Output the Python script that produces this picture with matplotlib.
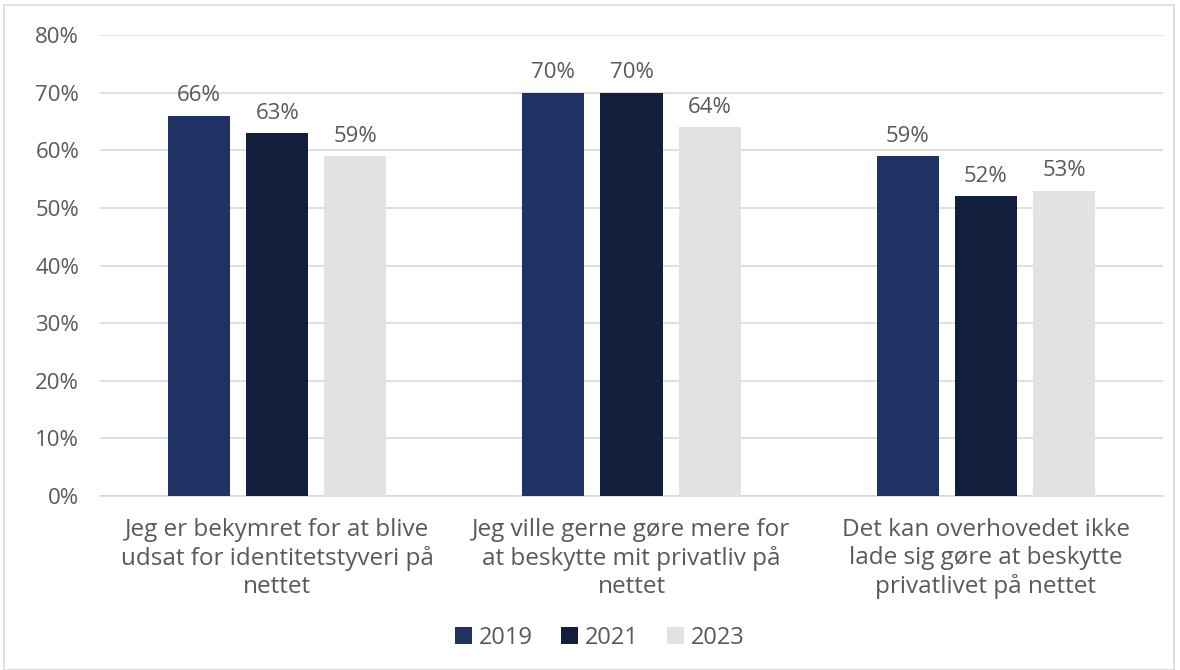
import matplotlib
matplotlib.use("Agg")
import matplotlib.pyplot as plt
import numpy as np
from matplotlib.patches import Rectangle

categories = [
    "Jeg er bekymret for at blive\nudsat for identitetstyveri på\nnettet",
    "Jeg ville gerne gøre mere for\nat beskytte mit privatliv på\nnettet",
    "Det kan overhovedet ikke\nlade sig gøre at beskytte\nprivatlivet på nettet",
]
years = ["2019", "2021", "2023"]
values = {
    "2019": [66, 70, 59],
    "2021": [63, 70, 52],
    "2023": [59, 64, 53],
}
colors = ["#203263", "#111f3d", "#e2e2e2"]

plt.rcParams['font.family'] = ['Open Sans', 'DejaVu Sans']
text_color = "#595959"

fig = plt.figure(figsize=(11.8, 6.7), dpi=100)
ax = fig.add_axes([100/1180, 174/670, 1063/1180, 461/670])

fig.patches.append(Rectangle((4/1180, 0), 1170/1180, 665/670, transform=fig.transFigure,
                             fill=False, edgecolor="#d9d9d9", linewidth=1.2))

x = np.arange(len(categories))
width = 0.175
step = 0.221
for i, (yr, c) in enumerate(zip(years, colors)):
    vals = values[yr]
    bars = ax.bar(x + (i - 1) * step, vals, width, color=c, label=yr, zorder=3)
    for b, v in zip(bars, vals):
        ax.text(b.get_x() + b.get_width() / 2, v + 1.6, f"{v}%", ha="center", va="bottom",
                fontsize=16, color=text_color)

ax.set_xlim(-0.5, 2.5)
ax.set_ylim(0, 80)
ax.set_yticks(np.arange(0, 81, 10))
ax.set_yticklabels([f"{t}%" for t in range(0, 81, 10)], fontsize=16, color=text_color)
ax.yaxis.grid(True, color="#d9d9d9", linewidth=1.2, zorder=0)
ax.set_axisbelow(True)
ax.tick_params(axis="y", length=0, pad=15)
ax.tick_params(axis="x", length=0, pad=16)
ax.set_xticks(x)
ax.set_xticklabels(categories, fontsize=17.5, color=text_color, linespacing=1.2)
for s in ["top", "right", "left"]:
    ax.spines[s].set_visible(False)
ax.spines["bottom"].set_color("#d9d9d9")
ax.spines["bottom"].set_linewidth(1.2)

leg = fig.legend(loc="center", bbox_to_anchor=(600/1180, 1 - 638/670), ncol=3, frameon=False,
                 fontsize=17, handlelength=0.7, handleheight=0.7, handletextpad=0.3,
                 columnspacing=1.2)
for t in leg.get_texts():
    t.set_color(text_color)

fig.savefig("out.png", dpi=100)
